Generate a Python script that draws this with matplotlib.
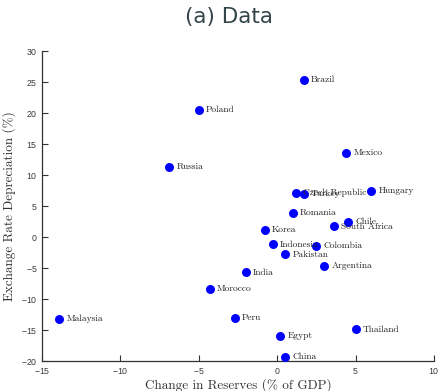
import matplotlib
matplotlib.use("Agg")
import matplotlib.pyplot as plt

countries = ["Brazil", "Poland", "Russia", "Mexico", "Czech Republic", "Turkey",
             "Hungary", "Romania", "Chile", "South Africa", "Korea", "Indonesia",
             "Colombia", "Pakistan", "Argentina", "India", "Morocco", "Peru",
             "Thailand", "Egypt", "China", "Malaysia"]
reserves = [1.7, -5.0, -6.9, 4.4, 1.2, 1.7, 6.0, 1.0, 4.5, 3.6, -0.8, -0.3,
            2.5, 0.5, 3.0, -2.0, -4.3, -2.7, 5.0, 0.2, 0.5, -13.9]
depreciation = [25.3, 20.5, 11.3, 13.5, 7.1, 6.9, 7.4, 3.9, 2.4, 1.7, 1.2, -1.2,
                -1.45, -2.8, -4.7, -5.7, -8.4, -13.1, -14.9, -15.9, -19.35, -13.2]

plt.rcParams['axes.formatter.use_mathtext'] = True

fig = plt.figure(figsize=(4.41, 3.91), dpi=100)
ax = fig.add_axes([0.0952, 0.0767, 0.889, 0.793])

ax.scatter(reserves, depreciation, s=42, color='#0000ff', zorder=3, linewidths=0)
for name, x, y in zip(countries, reserves, depreciation):
    ax.annotate(name, (x, y), xytext=(5.2, 0), textcoords='offset points',
                va='center', ha='left', fontsize=6.8, family='cmr10', color='#222222')

ax.set_xlim(-15, 10)
ax.set_ylim(-20, 30)
ax.set_xticks(range(-15, 11, 5))
ax.set_yticks(range(-20, 31, 5))
for s in ['top', 'right']:
    ax.spines[s].set_visible(False)
for s in ['left', 'bottom']:
    ax.spines[s].set_color('#333333')
    ax.spines[s].set_linewidth(0.9)
ax.tick_params(direction='in', length=4, width=0.8, labelsize=6.3,
               colors='#333333', labelcolor='#3a3a3a')
for lab in ax.get_xticklabels() + ax.get_yticklabels():
    lab.set_family('Liberation Sans')

ax.set_xlabel('Change in Reserves (% of GDP)', family='cmr10', fontsize=9.5,
              color='#333333', labelpad=2)
ax.set_ylabel('Exchange Rate Depreciation (%)', family='cmr10', fontsize=9.5,
              color='#333333', labelpad=3)
fig.suptitle('(a) Data', x=0.52, y=0.983, fontsize=15.5, family='DejaVu Sans',
             color='#34454a')

fig.savefig('out.png', dpi=100)
